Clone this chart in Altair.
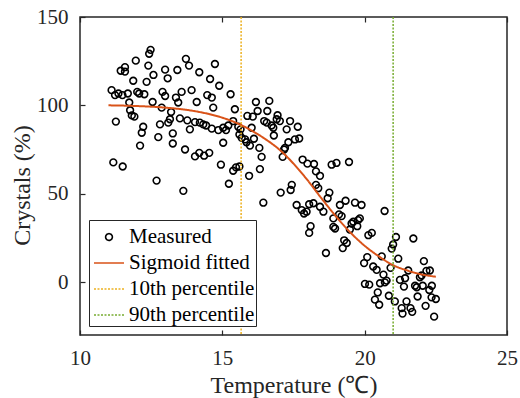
import altair as alt
import pandas as pd

# Measured points (temperature °C, crystals %)
temp = [12.48, 12.43, 11.96, 11.58, 11.43, 11.58, 12.40, 12.99, 13.42, 13.72, 13.83, 14.19, 14.74, 12.58, 11.87,
        12.34, 13.08, 14.57, 11.11, 11.23, 11.35, 11.49, 11.68, 12.01, 12.08, 12.26, 12.90, 12.99, 13.57, 13.37,
        13.45, 13.92, 14.47, 14.63, 14.10, 11.73, 12.55, 12.87, 14.68, 11.76, 11.82, 11.91, 13.20, 11.26, 13.51,
        13.77, 14.04, 14.21, 14.33, 14.43, 14.63, 13.16, 13.10, 12.81, 12.22, 12.17, 13.86, 13.26, 12.75, 13.26,
        12.11, 13.69, 14.04, 14.19, 14.36, 14.54, 11.17, 11.50, 12.69, 13.63,
        14.89, 15.29, 15.44, 14.86, 15.03, 15.13, 15.21, 15.38, 15.56, 15.64, 15.60, 15.68, 15.80, 15.85, 15.97,
        15.88, 16.07, 16.18, 16.65, 16.24, 16.58, 16.03, 16.11, 16.47, 16.56, 16.73, 16.79, 16.94, 16.91, 17.02,
        17.38, 17.65, 17.26, 16.81, 17.70, 17.55, 17.32, 17.20, 17.17, 17.12, 16.30, 16.38, 15.03, 14.95, 15.38,
        15.48, 15.60, 16.32, 15.94, 17.82, 17.99, 18.22, 18.29, 18.43,
        15.23, 16.44, 17.05, 17.44, 17.40, 17.61, 17.79, 17.87, 17.96, 18.05, 18.20, 18.10, 18.05, 18.29, 18.37,
        18.76, 18.70, 18.43, 18.55, 19.13, 19.33, 19.66, 19.89, 19.10, 19.19, 18.90, 18.96, 18.90, 19.54, 19.60,
        19.77, 19.83, 19.74, 19.48, 19.28, 19.37, 19.23, 18.64, 20.13, 20.25, 20.70, 21.10, 21.00, 20.95, 21.18,
        21.71, 20.09, 19.98, 20.30, 20.42, 20.60, 20.66, 20.91, 20.77, 20.71, 20.54, 20.01, 20.16, 20.46, 20.36,
        20.51, 20.85, 21.06, 21.24, 21.42, 21.38, 21.30, 21.33, 21.47, 21.61, 21.67, 21.53, 21.77, 21.83, 21.86,
        21.94, 22.00, 22.04, 22.08, 22.17, 22.29, 22.14, 22.27, 22.35, 22.50, 22.36, 22.44, 18.84, 19.01, 19.45]
crystals = [131.4, 129.2, 125.3, 121.6, 119.6, 119.1, 122.5, 120.2, 120.0, 126.3, 122.5, 118.7, 123.4, 117.2, 113.9,
            113.3, 115.3, 114.9, 108.6, 105.8, 106.7, 105.8, 106.7, 107.6, 106.7, 106.3, 107.6, 105.3, 107.6, 104.4,
            101.6, 108.6, 105.8, 104.4, 101.9, 101.6, 101.9, 98.7, 98.7, 97.2, 94.3, 93.6, 96.2, 90.8, 92.6,
            91.5, 90.5, 90.2, 89.2, 88.6, 86.8, 92.1, 90.2, 89.2, 87.9, 84.5, 86.4, 84.1, 82.0, 78.4,
            77.2, 75.0, 71.1, 73.1, 71.5, 73.1, 67.7, 65.4, 57.4, 51.6,
            111.1, 106.3, 97.8, 86.0, 87.3, 86.0, 88.6, 91.1, 87.9, 86.4, 83.5, 81.6, 80.7, 79.1, 77.2,
            94.0, 93.6, 101.9, 102.5, 96.8, 96.8, 87.3, 81.1, 91.1, 90.2, 88.6, 87.3, 94.4, 92.1, 91.1,
            91.1, 87.9, 86.4, 82.9, 81.2, 80.7, 79.1, 75.9, 75.0, 70.8, 75.9, 70.8, 78.8, 66.4, 63.0,
            64.9, 65.4, 63.9, 60.1, 69.3, 67.0, 66.8, 62.6, 60.1,
            55.6, 44.9, 50.6, 55.0, 52.1, 43.6, 40.7, 38.8, 39.8, 44.0, 44.6, 31.6, 27.8, 55.0, 53.1,
            50.6, 47.4, 42.6, 39.8, 43.6, 46.0, 44.9, 43.6, 38.3, 37.3, 31.2, 30.3, 36.0, 33.1, 34.1,
            35.0, 36.0, 31.6, 29.7, 23.6, 22.1, 19.2, 16.4, 26.5, 27.8, 40.2, 25.5, 21.2, 18.9, 13.2,
            24.6, 14.1, 10.7, 8.8, 6.9, 14.5, 4.2, 8.0, 0.8, -0.2, -0.7, -1.1, -1.5, -5.9, -10.0,
            -12.9, -7.8, -11.0, 1.2, 2.1, -2.6, -14.8, -17.9, -11.0, -14.8, -16.9, 6.5, -2.1, -3.0, -8.2,
            2.7, 3.7, -2.1, 11.8, 6.3, 6.5, -13.5, -4.5, -8.7, -9.6, -2.1, -19.6, 66.4, 67.4, 67.9]

# Sigmoid fitted curve
fit_x = [11.0, 12.0, 13.0, 14.0, 14.5, 15.0, 15.5, 16.0, 16.5, 17.0, 17.5, 18.0, 18.5, 19.0, 19.5, 20.0,
         20.5, 21.0, 21.5, 22.0, 22.5]
fit_y = [100.0, 99.6, 98.7, 96.8, 95.2, 93.0, 90.0, 86.0, 81.0, 75.0, 67.0, 57.5, 47.0, 37.0, 28.0, 20.5,
         14.5, 9.5, 6.5, 4.3, 3.0]

# Percentile lines
pct_x = [15.66, 21.0]
pct_names = ["10th percentile", "90th percentile"]

series = ["Measured", "Sigmoid fitted", "10th percentile", "90th percentile"]
colors = ["#000000", "#D95319", "#EDB120", "#77AC30"]
x_ticks = [10, 15, 20, 25]
y_ticks = [0, 50, 100, 150]

FONT = "Liberation Serif"
W, H = 427, 318
SYM = 900  # symbol box area; small circle path drawn inside it
CIRCLE = "M0.225,0A0.225,0.225 0 1,1 -0.225,0A0.225,0.225 0 1,1 0.225,0Z"
STROKE = "M-1,0H1"

pts = pd.DataFrame({"x": temp, "y": crystals, "series": "Measured"})
fit = pd.DataFrame({"x": fit_x, "y": fit_y, "series": "Sigmoid fitted"})
pct = pd.DataFrame({"x": pct_x, "series": pct_names})

xs = alt.Scale(domain=[10, 25], nice=False, zero=False)
ys = alt.Scale(domain=[-30, 150], nice=False, zero=False)

color = alt.Color("series:N", scale=alt.Scale(domain=series, range=colors), legend=alt.Legend(title=None))
shape = alt.Shape("series:N", scale=alt.Scale(domain=series, range=[CIRCLE, STROKE, STROKE, STROKE]),
                  legend=alt.Legend(title=None))
dash = alt.StrokeDash("series:N", scale=alt.Scale(domain=series, range=[[1, 0], [1, 0], [2, 1.5], [2, 1.5]]),
                      legend=alt.Legend(title=None))

ax_main_x = alt.Axis(orient="bottom", values=x_ticks, ticks=False, tickSize=0, domain=False, grid=False,
                     labelPadding=12, labelFlush=False, title="Temperature (℃)", titlePadding=5)
ax_main_y = alt.Axis(orient="left", values=y_ticks, ticks=False, tickSize=0, domain=False, grid=False,
                     labelPadding=12, labelFlush=False, title="Crystals (%)", titlePadding=2, titleY=168)
ax_b_x = alt.Axis(orient="top", offset=-H, values=x_ticks, labels=False, domain=False, grid=False,
                  ticks=True, tickSize=5, title=None)
ax_b_y = alt.Axis(orient="right", offset=-W, values=y_ticks, labels=False, domain=False, grid=False,
                  ticks=True, tickSize=5, title=None)
ax_c_x = alt.Axis(orient="bottom", offset=-H, values=x_ticks, labels=False, domain=False, grid=False,
                  ticks=True, tickSize=5, title=None)
ax_c_y = alt.Axis(orient="left", offset=-W, values=y_ticks, labels=False, domain=False, grid=False,
                  ticks=True, tickSize=5, title=None)

points = alt.Chart(pts).mark_point(filled=False, strokeWidth=1.6, opacity=1, size=SYM).encode(
    x=alt.X("x:Q", scale=xs, axis=ax_main_x),
    y=alt.Y("y:Q", scale=ys, axis=ax_main_y),
    color=color, shape=shape,
)
line = alt.Chart(fit).mark_line(strokeWidth=2, interpolate="monotone").encode(
    x=alt.X("x:Q", scale=xs, axis=ax_b_x),
    y=alt.Y("y:Q", scale=ys, axis=ax_b_y),
    color=color, strokeDash=dash,
)
rules = alt.Chart(pct).mark_rule(strokeWidth=1.5).encode(
    x=alt.X("x:Q", scale=xs, axis=ax_c_x),
    y=alt.value(0), y2=alt.value(H),
    color=color, strokeDash=dash,
)

chart = alt.layer(points, line, rules).resolve_axis(x="independent", y="independent").properties(
    width=W, height=H,
    autosize=alt.AutoSizeParams(type="none"),
    padding={"left": 80, "top": 17, "right": 13, "bottom": 63},
).configure_view(stroke="#262626", strokeWidth=1.5).configure_axis(
    labelFont=FONT, labelFontSize=21, labelColor="#262626", titleFont=FONT, titleFontSize=24,
    titleColor="#262626", titleFontWeight="normal", tickColor="#262626", tickWidth=1.2,
).configure_legend(
    orient="bottom-left", offset=9, fillColor="white", strokeColor="#262626", padding=1,
    labelFont=FONT, labelFontSize=21, labelColor="#000000", symbolStrokeWidth=1.6,
    symbolFillColor="transparent", symbolSize=SYM, symbolOffset=3, rowPadding=0, labelOffset=4,
    labelLimit=300,
)

chart.save("out.html", embed_options={"renderer": "svg", "actions": False})
